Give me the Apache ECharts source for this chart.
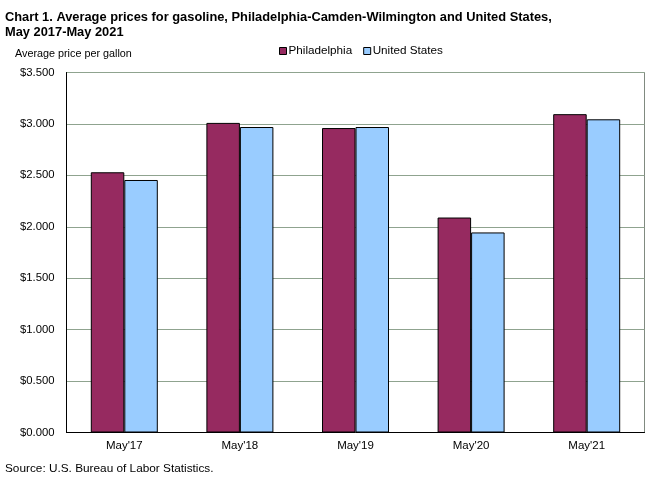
<!DOCTYPE html>
<html>
<head>
<meta charset="utf-8">
<style>
    html, body { margin: 0; padding: 0; background: #fff; }
    #main { width: 655px; height: 480px; }
</style>
<script src="https://cdn.jsdelivr.net/npm/echarts@6/dist/echarts.min.js"></script>
</head>
<body>
<div id="main"></div>
<script>
var categories = ["May'17", "May'18", "May'19", "May'20", "May'21"];
var philadelphia = [2.53, 3.01, 2.96, 2.09, 3.095];
var unitedStates = [2.455, 2.97, 2.97, 1.945, 3.045];
var fontName = 'Liberation Sans';

var myChart = echarts.init(document.getElementById('main'));

var option = {
    animation: false,
    backgroundColor: '#fff',
    title: [
        {
            text: 'Chart 1. Average prices for gasoline, Philadelphia-Camden-Wilmington and United States,\nMay 2017-May 2021',
            left: 5,
            top: 10,
            padding: 0,
            textStyle: { fontFamily: fontName, fontSize: 12.85, fontWeight: 'bold', color: '#000', lineHeight: 15 }
        },
        {
            text: 'Average price per gallon',
            left: 15,
            top: 49,
            padding: 0,
            textStyle: { fontFamily: fontName, fontSize: 10.8, fontWeight: 'normal', color: '#000' }
        },
        {
            text: 'Source: U.S. Bureau of Labor Statistics.',
            left: 5,
            top: 463,
            padding: 0,
            textStyle: { fontFamily: fontName, fontSize: 11.8, fontWeight: 'normal', color: '#000' }
        }
    ],
    legend: {
        top: 40,
        left: 274,
        itemWidth: 7,
        itemHeight: 7,
        itemGap: 11,
        icon: 'rect',
        itemStyle: { borderColor: '#000', borderWidth: 1 },
        textStyle: { fontFamily: fontName, fontSize: 11.7, color: '#000', padding: [0, 0, 0, -3] },
        data: ['Philadelphia', 'United States']
    },
    grid: {
        show: true,
        left: 66.5,
        right: 10.5,
        top: 72.5,
        bottom: 47.5,
        borderColor: '#808a80',
        borderWidth: 1
    },
    xAxis: {
        type: 'category',
        data: categories,
        axisLine: { lineStyle: { color: '#000', width: 1 } },
        axisTick: { show: false },
        axisLabel: { fontFamily: fontName, fontSize: 11.5, color: '#000', margin: 7 }
    },
    yAxis: {
        type: 'value',
        min: 0,
        max: 3.5,
        interval: 0.5,
        axisLine: { show: true, lineStyle: { color: '#000', width: 1 } },
        axisTick: { show: false },
        axisLabel: {
            fontFamily: fontName, fontSize: 11.3, color: '#000', margin: 12,
            formatter: function (value) { return '$' + value.toFixed(3); }
        },
        splitLine: { show: true, lineStyle: { color: '#8fa38f', width: 1 } }
    },
    series: [
        {
            name: 'Philadelphia',
            type: 'bar',
            data: philadelphia,
            barWidth: 33.5,
            barGap: '0%',
            itemStyle: { color: '#962a60', borderColor: '#000', borderWidth: 1 }
        },
        {
            name: 'United States',
            type: 'bar',
            data: unitedStates,
            barWidth: 33.5,
            itemStyle: { color: '#99ccff', borderColor: '#000', borderWidth: 1 }
        }
    ]
};
myChart.setOption(option);
</script>
</body>
</html>
